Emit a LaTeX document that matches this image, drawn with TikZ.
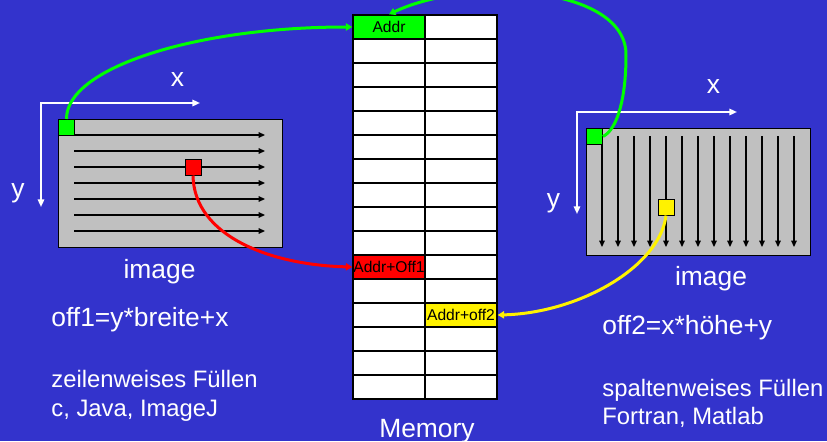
\documentclass[tikz,border=0pt]{standalone}
\usepackage{fontspec}
\setmainfont{Liberation Sans}
\usetikzlibrary{arrows.meta,positioning}
\definecolor{slideblue}{RGB}{51,51,204}
\definecolor{imggray}{RGB}{192,192,192}

\begin{document}
\begin{tikzpicture}[x=0.5pt, y=0.5pt,
  lbl/.style={text=white, inner sep=0pt, font=\fontsize{13.2}{15}\selectfont},
  note/.style={lbl, anchor=base west, font=\fontsize{11.9}{14}\selectfont},
  cell/.style={draw, fill=white, line width=0.7pt, minimum width=36pt, minimum height=12pt,
    inner sep=0pt, font=\fontsize{7.8}{8}\selectfont},
  img/.style={draw, fill=imggray, line width=0.6pt, inner sep=0pt, anchor=north west},
  pix/.style={draw, line width=0.5pt, minimum size=8pt, inner sep=0pt},
  axis/.style={white, line width=0.9pt, {Triangle[length=3.8pt,width=3.2pt]}-{Triangle[length=3.8pt,width=3.2pt]}},
  scan/.style={line width=0.6pt, -{Triangle[length=3.2pt,width=2.8pt]}},
  link/.style={line width=1.5pt, -{Triangle[length=3.2pt,width=3.6pt]}}]
\fill[slideblue, use as bounding box] (0,0) rectangle (827,441);
\clip (0,0) rectangle (827,441);

% memory
\foreach \r in {0,...,15}
  \foreach \c in {0,1}
    \node[cell] (m-\r-\c) at (389+72*\c, 414-24*\r) {};
\node[cell, fill=green] (addr) at (m-0-0) {Addr};
\node[cell, fill=red] (off1) at (m-10-0) {Addr+Off1};
\node[cell, fill=yellow] (off2) at (m-12-1) {Addr+off2};
\node[lbl, anchor=base] (mem) at (427,4) {Memory};

% row-wise image
\node[img, minimum width=112pt, minimum height=64pt] (imgL) at (58,322) {};
\foreach \k in {0,...,6}
  \draw[scan] (74,306-16*\k) -- (265,306-16*\k);
\node[pix, fill=green, anchor=north west] (pL) at (imgL.north west) {};
\node[pix, fill=red] (pR) at (193,274) {};
\draw[axis] (200,338) -- (41,338) -- (41,234);
\node[lbl, anchor=base] (xL) at (177.5,355) {x};
\node[lbl, anchor=base] (yL) at (18,244) {y};
\node[lbl, anchor=base] (capL) at (159.5,163) {image};
\node[lbl, anchor=base west] (offL) at (51,115) {off1=y*breite+x};
\node[note] (rowL) at (51,54) {zeilenweises Füllen};
\node[note] (langL) at (51,25) {c, Java, ImageJ};

% column-wise image
\node[img, minimum width=112pt, minimum height=63.5pt] (imgR) at (586,313) {};
\foreach \k in {0,...,12}
  \draw[scan] (602+16*\k,305) -- (602+16*\k,194);
\node[pix, fill=green, anchor=north west] (pG) at (imgR.north west) {};
\node[pix, fill=yellow] (pY) at (666,234) {};
\draw[axis] (737,329) -- (577,329) -- (577,227);
\node[lbl, anchor=base] (xR) at (713.5,348) {x};
\node[lbl, anchor=base] (yR) at (553.5,234) {y};
\node[lbl, anchor=base] (capR) at (711,156) {image};
\node[lbl, anchor=base west] (offR) at (602,107) {off2=x*höhe+y};
\node[note] (colR) at (602,45) {spaltenweises Füllen};
\node[note] (langR) at (602,17) {Fortran, Matlab};

% offsets into memory
\draw[link, green] (pL.north) .. controls (66,373) and (195,414) .. (addr.west);
\draw[link, green] (pG.east) .. controls (618,312) and (626,345) .. (626,385)
  .. controls (628,455) and (470,465) .. (addr.north);
\draw[link, red] (pR.south) .. controls (194,205) and (270,176) .. (off1.west);
\draw[link, yellow] (pY.south) .. controls (660,175) and (580,128) .. (off2.east);
\end{tikzpicture}
\end{document}
